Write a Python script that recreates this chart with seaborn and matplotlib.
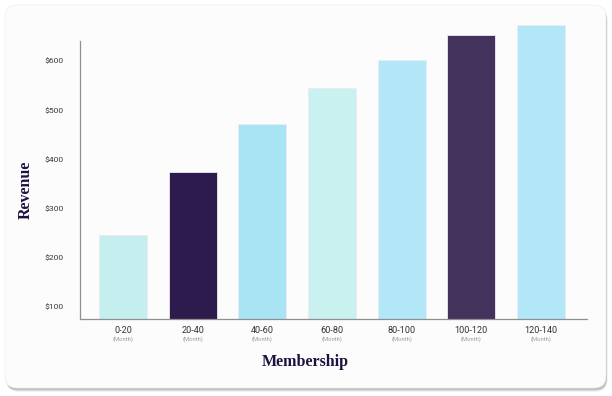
"""
Revenue by membership length, bar chart on a rounded card.

Output:
    out.png
"""
import matplotlib
matplotlib.use("Agg")
import matplotlib.pyplot as plt
import matplotlib.transforms as mtransforms
from matplotlib.patches import FancyBboxPatch
import pandas as pd
import seaborn as sns

categories = ["0-20", "20-40", "40-60", "60-80", "80-100", "100-120", "120-140"]
revenue = [247, 375, 472, 545, 602, 653, 673]
bar_colors = ["#c4efee", "#2e1b4e", "#a9e4f5", "#c9f1ef", "#b1e7f6", "#42325c", "#b1e7f6"]
y_ticks = [100, 200, 300, 400, 500, 600]
sub_label = "(Month)"

W, H = 612, 396


def run():
    sns.set_theme(style="white")
    plt.rcParams["font.family"] = ["Roboto", "DejaVu Sans"]

    fig = plt.figure(figsize=(W / 100, H / 100), dpi=100)
    fig.patch.set_facecolor("#ffffff")

    # card with soft shadow
    for dx, dy, a in [(1.5, -3.5, 0.10), (1.0, -2.5, 0.10), (0.5, -1.5, 0.10)]:
        sh = FancyBboxPatch(((5 + dx) / W, (8 + dy) / H), 601 / W, 383 / H,
                            boxstyle="round,pad=0,rounding_size=0.02",
                            transform=fig.transFigure, facecolor="#000000",
                            edgecolor="none", alpha=a, zorder=0, mutation_aspect=W / H)
        fig.patches.append(sh)
    card = FancyBboxPatch((5 / W, 8 / H), 601 / W, 383 / H,
                          boxstyle="round,pad=0,rounding_size=0.02",
                          transform=fig.transFigure, facecolor="#fcfcfc",
                          edgecolor="#eeeeee", linewidth=0.5, zorder=1,
                          mutation_aspect=W / H)
    fig.patches.append(card)

    ax = fig.add_axes([80 / W, 77 / H, 507 / W, 302.3 / H])
    ax.set_facecolor("none")
    ax.set_zorder(2)

    df = pd.DataFrame({"membership": categories, "revenue": revenue})
    sns.barplot(data=df, x="membership", y="revenue", hue="membership",
                palette=bar_colors, width=0.69, legend=False, saturation=1,
                edgecolor="#ecebf3", linewidth=0.6, ax=ax)

    ax.set_ylim(75.6, 690)
    ax.set_xlim(-0.62, 6.66)
    sns.despine(ax=ax)
    ax.spines["left"].set_bounds(75.6, 640)
    for s in ("left", "bottom"):
        ax.spines[s].set_color("#8f8f8f")
        ax.spines[s].set_linewidth(0.9)

    ax.set_yticks(y_ticks)
    ax.set_yticklabels([f"${v}" for v in y_ticks], fontsize=6.1, color="#3a3a3a")
    ax.tick_params(axis="y", length=0, pad=12)
    ax.set_xticks(range(len(categories)))
    ax.set_xticklabels(categories, fontsize=6.6, color="#333333")
    ax.tick_params(axis="x", length=0, pad=5)

    trans = mtransforms.blended_transform_factory(ax.transData, fig.transFigure)
    for i in range(len(categories)):
        ax.text(i, 1 - 339 / H, sub_label, transform=trans, fontsize=4.2,
                color="#9a9a9a", ha="center", va="center")

    ax.set_xlabel("")
    ax.set_ylabel("")
    fig.text(305 / W, 1 - 362 / H, "Membership", fontsize=11.5, fontweight="bold",
             family=["Liberation Serif", "DejaVu Serif"], color="#1e1040",
             ha="center", va="center")
    fig.text(26 / W, 1 - 190 / H, "Revenue", fontsize=11.5, fontweight="bold",
             family=["Liberation Serif", "DejaVu Serif"], color="#1e1040",
             ha="center", va="center", rotation=90)

    fig.savefig("out.png", dpi=100, facecolor=fig.get_facecolor())
    plt.close(fig)


if __name__ == "__main__":
    run()
